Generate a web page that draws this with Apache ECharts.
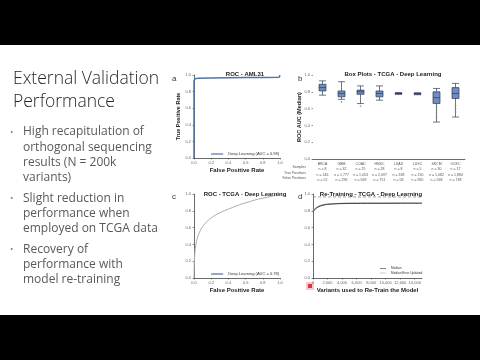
<!DOCTYPE html>
<html><head><meta charset="utf-8">
<script src="https://cdn.jsdelivr.net/npm/echarts@6/dist/echarts.min.js"></script>
<style>html,body{margin:0;padding:0;background:#000}#c{width:480px;height:360px}</style>
</head><body><div id="c"></div>
<script>
// ---- slide text ----
var slideTitle = ["External Validation", "Performance"];
var bullets = [
  ["High recapitulation of", "orthogonal sequencing", "results (N = 200k", "variants)"],
  ["Slight reduction in", "performance when", "employed on TCGA data"],
  ["Recovery of", "performance with", "model re-training"]
];
// ---- panel a : ROC AML31 ----
var rocAmlFpr = [0, 0, 0.005, 0.01, 0.02, 0.05, 0.2, 0.4, 0.6, 0.8, 0.99, 1.0, 1.0];
var rocAmlTpr = [0, 0.93, 0.945, 0.955, 0.96, 0.962, 0.965, 0.967, 0.969, 0.971, 0.973, 0.975, 1.0];
// ---- panel b : box plots ----
var boxCategories = ["BRCA", "GBM", "COAD", "HNSC", "LUAD", "LUSC", "SKCM", "UCEC"];
var boxStats = [ // [min, Q1, median, Q3, max]
  [0.76, 0.81, 0.85, 0.89, 0.93],
  [0.71, 0.74, 0.78, 0.81, 0.92],
  [0.66, 0.77, 0.80, 0.82, 0.87],
  [0.70, 0.74, 0.78, 0.81, 0.87],
  [0.77, 0.775, 0.78, 0.785, 0.79],
  [0.765, 0.77, 0.778, 0.783, 0.788],
  [0.44, 0.66, 0.73, 0.80, 0.84],
  [0.50, 0.72, 0.78, 0.85, 0.90]
];
var boxOutliers = [[6, 0.62], [6, 0.58], [6, 0.55], [6, 0.51], [6, 0.48], [7, 0.64], [7, 0.60], [7, 0.56], [1, 0.68], [2, 0.63]];
var tableRows = ["Samples", "True Positives", "False Positives"];
var tableSamples = ["n = 8", "n = 32", "n = 25", "n = 28", "n = 8", "n = 5", "n = 30", "n = 17"];
var tableTP = ["n = 146", "n = 1,777", "n = 1,053", "n = 2,097", "n = 338", "n = 130", "n = 1,082", "n = 1,884"];
var tableFP = ["n = 52", "n = 296", "n = 569", "n = 751", "n = 58", "n = 965", "n = 568", "n = 738"];
// ---- panel c : ROC TCGA ----
var rocTcgaFpr = [0, 0.003, 0.008, 0.015, 0.03, 0.05, 0.08, 0.12, 0.18, 0.25, 0.35, 0.45, 0.55, 0.65, 0.75, 0.85, 0.93, 1.0];
var rocTcgaTpr = [0, 0.18, 0.27, 0.35, 0.44, 0.51, 0.58, 0.64, 0.70, 0.75, 0.80, 0.84, 0.88, 0.91, 0.94, 0.96, 0.98, 1.0];
// ---- panel d : re-training ----
var retrainX = [0, 200, 500, 1000, 1500, 2000, 3000, 4000, 6000, 8000, 10000, 12000, 14000, 15000];
var retrainMedian = [0.79, 0.81, 0.835, 0.857, 0.869, 0.876, 0.883, 0.886, 0.888, 0.889, 0.889, 0.89, 0.89, 0.89];
var retrainUpdated = [0.795, 0.815, 0.84, 0.861, 0.873, 0.879, 0.886, 0.889, 0.891, 0.892, 0.892, 0.893, 0.893, 0.893];
var baselineAuc = 0.965;

var chart = echarts.init(document.getElementById('c'));
function pairs(xs, ys) { return xs.map(function (x, i) { return [x, ys[i]]; }); }

var tickLbl = { fontSize: 4, color: '#666', margin: 3, fontFamily: 'Liberation Sans' };
var axLine = { lineStyle: { color: '#444', width: 0.8 } };
var axTick = { show: true, length: 1.5, lineStyle: { color: '#444', width: 0.6 } };
var nameStyle = { fontSize: 6, fontWeight: 'bold', color: '#222', fontFamily: 'Liberation Sans' };

function valAxis(grid, extra) {
  var a = { type: 'value', gridIndex: grid, min: 0, max: 1, interval: 0.2,
    axisLine: axLine, axisTick: axTick, splitLine: { show: false },
    axisLabel: Object.assign({}, tickLbl, { formatter: function (v) { return v.toFixed(1); } }) };
  return Object.assign(a, extra || {});
}

var graphics = [
  { type: 'rect', shape: { x: 0, y: 45, width: 480, height: 270 }, style: { fill: '#fff' }, z: -10 }
];
slideTitle.forEach(function (t, i) {
  graphics.push({ type: 'text', x: 13, y: 79 + i * 23, style: { text: t, fill: '#262626', font: '300 17.5px "Open Sans"', verticalAlign: 'middle' } });
});
var by = 132;
bullets.forEach(function (b) {
  graphics.push({ type: 'text', x: 10, y: by, style: { text: '•', fill: '#8a8a8a', font: '9px "Open Sans"', verticalAlign: 'middle' } });
  b.forEach(function (line) {
    graphics.push({ type: 'text', x: 23, y: by, style: { text: line, fill: '#595959', font: '12px "Open Sans"', verticalAlign: 'middle' } });
    by += 15.3;
  });
  by += 5;
});
[['a', 172, 79], ['b', 298, 79], ['c', 172, 197], ['d', 298, 197]].forEach(function (p) {
  graphics.push({ type: 'text', x: p[1], y: p[2], style: { text: p[0], fill: '#333', font: '8px "Liberation Sans"', verticalAlign: 'middle' } });
});
tableRows.forEach(function (r, i) {
  graphics.push({ type: 'text', x: 306, y: 167.5 + i * 5.5, style: { text: r, fill: '#555', font: '3.5px "Liberation Sans"', align: 'right', verticalAlign: 'middle' } });
});
graphics.push({ type: 'text', x: 299, y: 117, rotation: Math.PI / 2, style: { text: 'ROC AUC (Median)', fill: '#222', font: 'bold 5.5px "Liberation Sans"', align: 'center', verticalAlign: 'middle' } });
graphics.push({ type: 'rect', shape: { x: 306, y: 282, width: 8, height: 8 }, style: { fill: '#f6c9cf' } });
graphics.push({ type: 'rect', shape: { x: 308, y: 284, width: 4, height: 4 }, style: { fill: '#e0303f' } });

var option = {
  backgroundColor: '#000',
  animation: false,
  textStyle: { fontFamily: 'Liberation Sans' },
  title: [
    { text: 'ROC - AML31', left: 240, top: 66, textAlign: 'center', textStyle: { fontSize: 6, fontWeight: 'bold', color: '#222' } },
    { text: 'Box Plots - TCGA - Deep Learning', left: 388, top: 66, textAlign: 'center', textStyle: { fontSize: 6, fontWeight: 'bold', color: '#222' } },
    { text: 'ROC - TCGA - Deep Learning', left: 240, top: 186, textAlign: 'center', textStyle: { fontSize: 6, fontWeight: 'bold', color: '#222' } },
    { text: 'Re-Training - TCGA - Deep Learning', left: 366, top: 186, textAlign: 'center', textStyle: { fontSize: 6, fontWeight: 'bold', color: '#222' } }
  ],
  grid: [
    { left: 194, top: 75, width: 86, height: 83 },
    { left: 313, top: 75, width: 152, height: 84 },
    { left: 194, top: 194, width: 86, height: 84 },
    { left: 313, top: 194, width: 109, height: 84 }
  ],
  legend: [
    { data: [{ name: 'Deep Learning (AUC = 0.98)' }], right: 201, top: 152, padding: 0, itemWidth: 12, itemHeight: 3, textStyle: { fontSize: 4, color: '#333' }, icon: 'path://M0,0L10,0L10,1L0,1Z' },
    { data: [{ name: 'Deep Learning (AUC = 0.78)', itemStyle: { color: '#4a6fa5' } }], right: 201, top: 272, padding: 0, itemWidth: 12, itemHeight: 3, textStyle: { fontSize: 4, color: '#333' }, icon: 'path://M0,0L10,0L10,1L0,1Z' },
    { data: ['Median', 'Median Error Updated'], orient: 'vertical', left: 380, top: 267, padding: 0, itemGap: 1.5, itemWidth: 6, itemHeight: 2, textStyle: { fontSize: 3.2, color: '#333' }, icon: 'path://M0,0L10,0L10,1L0,1Z' }
  ],
  xAxis: [
    valAxis(0, { name: 'False Positive Rate', nameLocation: 'middle', nameGap: 9, nameTextStyle: nameStyle }),
    { type: 'category', gridIndex: 1, data: boxCategories, axisLine: axLine, axisTick: { show: false },
      axisLabel: { fontSize: 3.5, color: '#555', margin: 2, lineHeight: 5.5, interval: 0,
        formatter: function (v, i) { return v + '\n' + tableSamples[i] + '\n' + tableTP[i] + '\n' + tableFP[i]; } } },
    valAxis(2, { name: 'False Positive Rate', nameLocation: 'middle', nameGap: 9, nameTextStyle: nameStyle }),
    { type: 'value', gridIndex: 3, min: 0, max: 15000, interval: 2000, axisLine: axLine, axisTick: axTick, splitLine: { show: false },
      name: 'Variants used to Re-Train the Model', nameLocation: 'middle', nameGap: 9, nameTextStyle: nameStyle,
      axisLabel: Object.assign({}, tickLbl, { showMaxLabel: false, formatter: function (v) { return v.toLocaleString('en-US'); } }) }
  ],
  yAxis: [
    valAxis(0, { name: 'True Positive Rate', nameLocation: 'middle', nameGap: 9, nameTextStyle: Object.assign({}, nameStyle, { fontSize: 5.5 }) }),
    valAxis(1),
    valAxis(2),
    valAxis(3)
  ],
  series: [
    { type: 'line', name: 'Deep Learning (AUC = 0.98)', xAxisIndex: 0, yAxisIndex: 0, data: pairs(rocAmlFpr, rocAmlTpr), showSymbol: false,
      lineStyle: { color: '#4f74a8', width: 1.5 }, itemStyle: { color: '#4f74a8' } },
    { type: 'boxplot', name: 'box', xAxisIndex: 1, yAxisIndex: 1, data: boxStats, boxWidth: [6, 7],
      itemStyle: { color: '#6f8dc0', borderColor: '#2e3a55', borderWidth: 0.7 } },
    { type: 'scatter', name: 'outliers', xAxisIndex: 1, yAxisIndex: 1, data: boxOutliers, symbolSize: 1.8,
      itemStyle: { color: '#888' } },
    { type: 'line', name: 'Deep Learning (AUC = 0.78)', xAxisIndex: 2, yAxisIndex: 2, data: pairs(rocTcgaFpr, rocTcgaTpr), showSymbol: false, smooth: 0.3,
      lineStyle: { color: '#a9adb5', width: 1 }, itemStyle: { color: '#4a6fa5' } },
    { type: 'line', name: 'baseline', xAxisIndex: 3, yAxisIndex: 3, data: [[0, baselineAuc], [15000, baselineAuc]], showSymbol: false,
      lineStyle: { color: '#888', width: 0.8, type: [3, 2] } },
    { type: 'line', name: 'Median Error Updated', xAxisIndex: 3, yAxisIndex: 3, data: pairs(retrainX, retrainUpdated), showSymbol: false, smooth: 0.4,
      lineStyle: { color: '#aaa', width: 1.2 }, itemStyle: { color: '#aaa' } },
    { type: 'line', name: 'Median', xAxisIndex: 3, yAxisIndex: 3, data: pairs(retrainX, retrainMedian), showSymbol: false, smooth: 0.4,
      lineStyle: { color: '#333', width: 0.9 }, itemStyle: { color: '#333' } }
  ],
  graphic: graphics
};
chart.setOption(option);
</script></body></html>
